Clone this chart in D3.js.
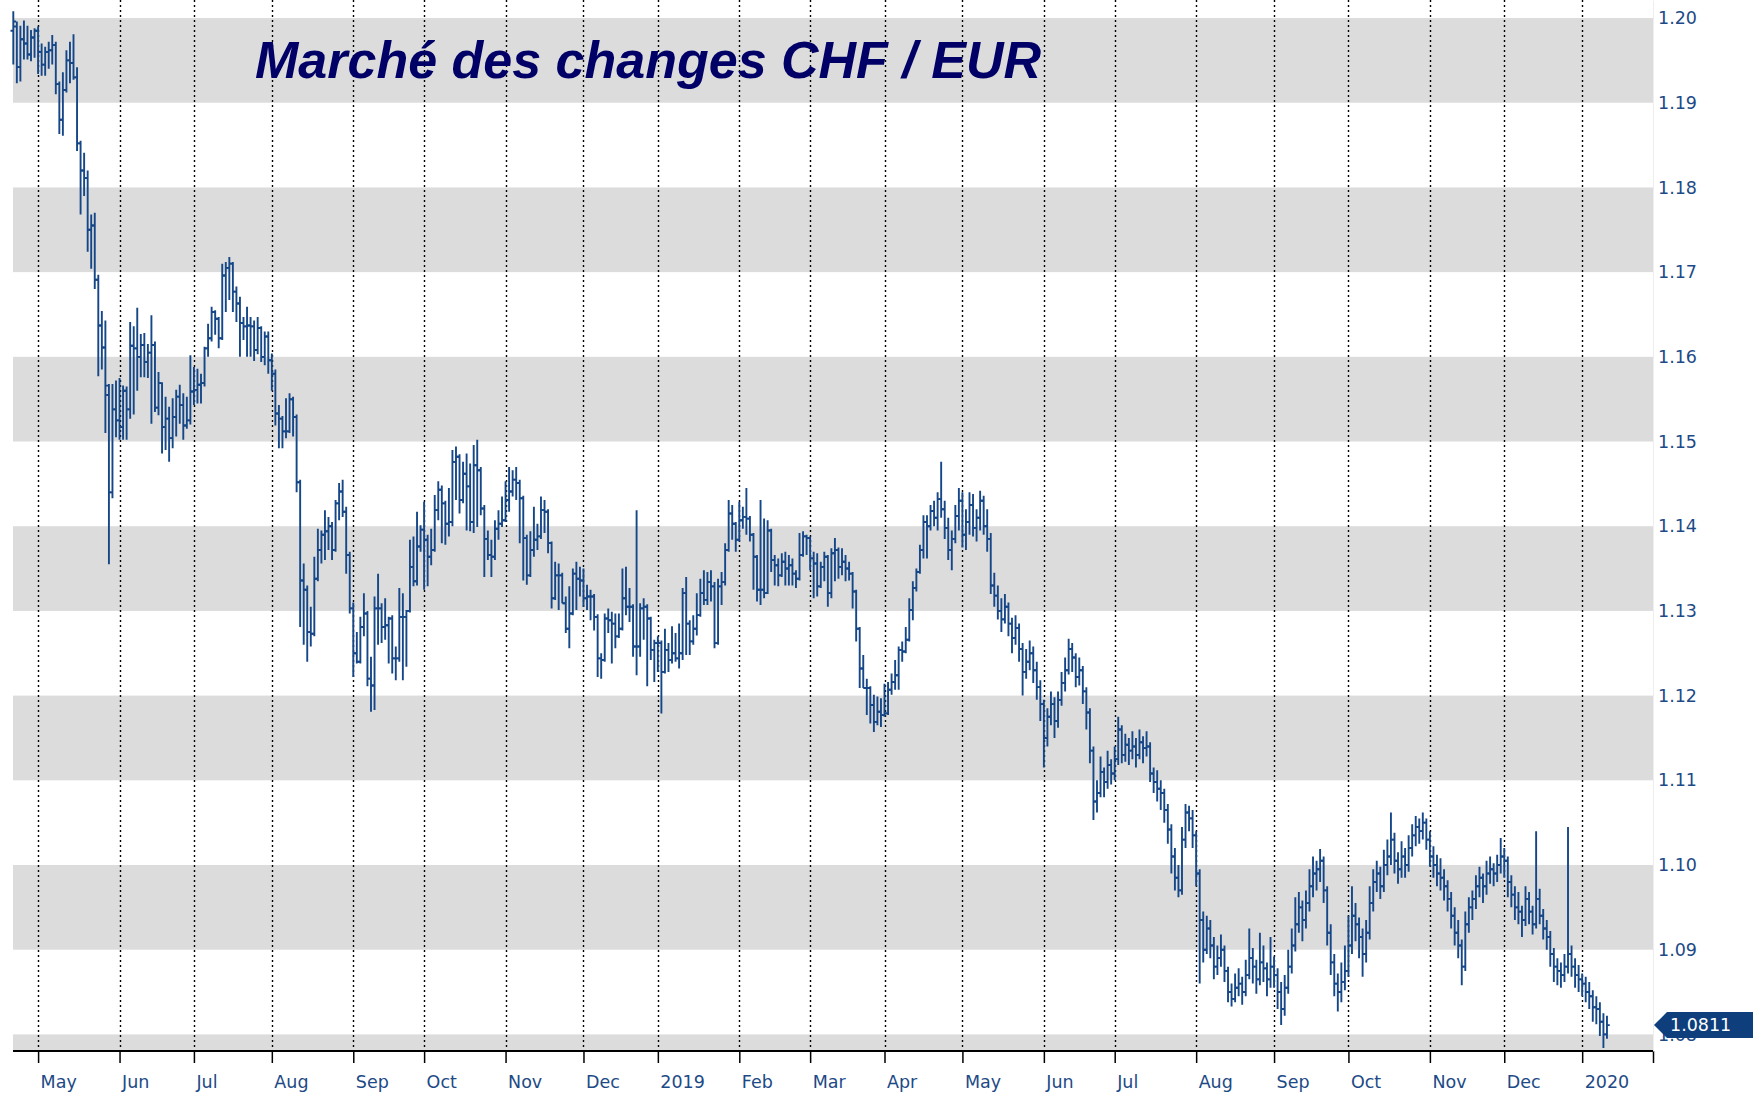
<!DOCTYPE html>
<html>
<head>
<meta charset="utf-8">
<script src="https://cdnjs.cloudflare.com/ajax/libs/d3/7.8.5/d3.min.js"></script>
<style>
  body { margin: 0; background: #fff; }
  svg { display: block; }
</style>
</head>
<body>
<svg width="1757" height="1093"></svg>
<script>
// EUR/CHF daily bars, 20 Apr 2018 - 10 Jan 2020 (one value per trading day)
const open = [
  1.1985,1.1990,1.1942,1.1975,1.1970,1.1957,1.1977,1.1985,1.1960,1.1945,
  1.1960,1.1962,1.1968,1.1922,1.1880,1.1915,1.1950,1.1947,1.1930,1.1852,
  1.1820,1.1811,1.1750,1.1755,1.1691,1.1637,1.1611,1.1555,1.1440,1.1538,
  1.1525,1.1517,1.1560,1.1538,1.1613,1.1610,1.1600,1.1614,1.1594,1.1605,
  1.1614,1.1540,1.1569,1.1517,1.1527,1.1504,1.1529,1.1553,1.1543,1.1519,
  1.1525,1.1559,1.1561,1.1567,1.1569,1.1610,1.1622,1.1653,1.1645,1.1622,
  1.1696,1.1705,1.1710,1.1677,1.1663,1.1640,1.1636,1.1637,1.1636,1.1608,
  1.1634,1.1600,1.1624,1.1596,1.1580,1.1533,1.1527,1.1512,1.1512,1.1550,
  1.1529,1.1452,1.1336,1.1325,1.1275,1.1273,1.1338,1.1372,1.1390,1.1394,
  1.1400,1.1372,1.1427,1.1441,1.1417,1.1366,1.1303,1.1250,1.1240,1.1281,
  1.1297,1.1220,1.1212,1.1303,1.1303,1.1281,1.1283,1.1291,1.1244,1.1244,
  1.1293,1.1293,1.1300,1.1352,1.1335,1.1376,1.1396,1.1384,1.1364,1.1372,
  1.1419,1.1443,1.1427,1.1403,1.1405,1.1476,1.1482,1.1431,1.1462,1.1447,
  1.1405,1.1472,1.1466,1.1421,1.1385,1.1366,1.1364,1.1397,1.1403,1.1407,
  1.1431,1.1441,1.1455,1.1451,1.1433,1.1386,1.1342,1.1372,1.1384,1.1388,
  1.1419,1.1417,1.1380,1.1315,1.1342,1.1342,1.1309,1.1279,1.1297,1.1344,
  1.1338,1.1336,1.1315,1.1317,1.1317,1.1293,1.1244,1.1242,1.1291,1.1289,
  1.1285,1.1270,1.1279,1.1315,1.1305,1.1305,1.1258,1.1258,1.1303,1.1305,
  1.1291,1.1254,1.1262,1.1262,1.1228,1.1254,1.1242,1.1250,1.1244,1.1250,
  1.1321,1.1285,1.1264,1.1279,1.1295,1.1321,1.1313,1.1334,1.1329,1.1262,
  1.1329,1.1334,1.1372,1.1415,1.1403,1.1384,1.1407,1.1411,1.1409,1.1390,
  1.1364,1.1325,1.1325,1.1321,1.1395,1.1360,1.1354,1.1342,1.1358,1.1350,
  1.1354,1.1344,1.1338,1.1366,1.1388,1.1386,1.1362,1.1356,1.1329,1.1352,
  1.1364,1.1321,1.1368,1.1372,1.1352,1.1358,1.1350,1.1344,1.1323,1.1279,
  1.1232,1.1209,1.1209,1.1189,1.1169,1.1181,1.1177,1.1179,1.1207,1.1216,
  1.1224,1.1254,1.1252,1.1266,1.1301,1.1327,1.1346,1.1372,1.1405,1.1400,
  1.1418,1.1410,1.1432,1.1420,1.1398,1.1372,1.1385,1.1412,1.1430,1.1390,
  1.1405,1.1425,1.1398,1.1410,1.1430,1.1400,1.1385,1.1330,1.1318,1.1300,
  1.1290,1.1305,1.1285,1.1268,1.1280,1.1255,1.1228,1.1240,1.1250,1.1230,
  1.1210,1.1190,1.1150,1.1175,1.1190,1.1170,1.1195,1.1215,1.1230,1.1255,
  1.1245,1.1222,1.1230,1.1205,1.1180,1.1135,1.1075,1.1085,1.1110,1.1098,
  1.1118,1.1108,1.1125,1.1160,1.1130,1.1142,1.1135,1.1140,1.1130,1.1145,
  1.1138,1.1140,1.1108,1.1098,1.1090,1.1085,1.1065,1.1042,1.1010,1.0985,
  1.0970,1.1030,1.1062,1.1055,1.1035,1.0990,1.0935,1.0900,1.0925,1.0905,
  1.0880,1.0890,1.0900,1.0875,1.0850,1.0842,1.0855,1.0860,1.0850,1.0870,
  1.0890,1.0880,1.0865,1.0885,1.0878,1.0865,1.0880,1.0870,1.0850,1.0830,
  1.0855,1.0880,1.0905,1.0930,1.0950,1.0935,1.0955,1.0975,1.0990,1.0995,
  1.1005,1.0970,1.0920,1.0885,1.0860,1.0850,1.0862,1.0875,1.0905,1.0940,
  1.0930,1.0915,1.0895,1.0920,1.0955,1.0980,1.0990,1.0975,1.1000,1.1010,
  1.1030,1.1005,1.0995,1.1010,1.1000,1.1020,1.1035,1.1045,1.1040,1.1050,
  1.1030,1.1010,1.1000,1.0990,1.0985,1.0975,1.0960,1.0940,1.0920,1.0905,
  1.0880,1.0930,1.0950,1.0960,1.0975,1.0985,1.0975,1.0990,1.0995,1.0990,
  1.1000,1.1010,1.1005,1.0980,1.0965,1.0950,1.0945,1.0935,1.0960,1.0945,
  1.0930,1.0960,1.0940,1.0925,1.0915,1.0895,1.0880,1.0875,1.0870,1.0880,
  1.0895,1.0880,1.0870,1.0865,1.0860,1.0850,1.0845,1.0832,1.0830,1.0815,1.0800
];
const high = [
  1.2008,1.1996,1.1991,1.1997,1.1991,1.1986,1.1988,1.1990,1.1970,1.1966,
  1.1972,1.1980,1.1972,1.1925,1.1936,1.1962,1.1972,1.1981,1.1942,1.1855,
  1.1841,1.1820,1.1768,1.1770,1.1697,1.1654,1.1643,1.1568,1.1568,1.1572,
  1.1575,1.1566,1.1565,1.1641,1.1636,1.1658,1.1627,1.1628,1.1615,1.1649,
  1.1618,1.1582,1.1570,1.1553,1.1541,1.1551,1.1561,1.1567,1.1557,1.1553,
  1.1602,1.1588,1.1586,1.1580,1.1612,1.1639,1.1659,1.1655,1.1647,1.1710,
  1.1712,1.1718,1.1712,1.1683,1.1671,1.1647,1.1659,1.1647,1.1643,1.1647,
  1.1636,1.1630,1.1630,1.1604,1.1585,1.1543,1.1530,1.1551,1.1557,1.1553,
  1.1532,1.1455,1.1356,1.1330,1.1305,1.1364,1.1397,1.1395,1.1419,1.1411,
  1.1405,1.1431,1.1451,1.1455,1.1423,1.1370,1.1310,1.1275,1.1293,1.1321,
  1.1300,1.1246,1.1317,1.1344,1.1309,1.1315,1.1293,1.1295,1.1258,1.1327,
  1.1321,1.1301,1.1384,1.1388,1.1417,1.1401,1.1429,1.1390,1.1397,1.1437,
  1.1453,1.1448,1.1430,1.1445,1.1490,1.1494,1.1485,1.1476,1.1486,1.1474,
  1.1496,1.1502,1.1470,1.1425,1.1395,1.1384,1.1407,1.1419,1.1435,1.1453,
  1.1470,1.1466,1.1470,1.1455,1.1436,1.1390,1.1394,1.1423,1.1403,1.1435,
  1.1431,1.1420,1.1382,1.1358,1.1356,1.1345,1.1317,1.1329,1.1350,1.1358,
  1.1352,1.1350,1.1331,1.1325,1.1320,1.1296,1.1250,1.1297,1.1303,1.1299,
  1.1297,1.1297,1.1350,1.1352,1.1327,1.1308,1.1419,1.1309,1.1315,1.1308,
  1.1293,1.1266,1.1270,1.1265,1.1279,1.1262,1.1282,1.1274,1.1285,1.1327,
  1.1340,1.1289,1.1295,1.1321,1.1338,1.1348,1.1346,1.1348,1.1334,1.1338,
  1.1346,1.1380,1.1431,1.1425,1.1405,1.1429,1.1423,1.1445,1.1412,1.1392,
  1.1366,1.1431,1.1409,1.1407,1.1397,1.1366,1.1362,1.1368,1.1370,1.1366,
  1.1362,1.1348,1.1392,1.1394,1.1390,1.1388,1.1370,1.1368,1.1358,1.1370,
  1.1366,1.1374,1.1386,1.1375,1.1374,1.1366,1.1358,1.1346,1.1325,1.1281,
  1.1248,1.1220,1.1211,1.1201,1.1199,1.1197,1.1214,1.1216,1.1226,1.1242,
  1.1258,1.1264,1.1281,1.1315,1.1335,1.1350,1.1378,1.1413,1.1413,1.1425,
  1.1430,1.1440,1.1476,1.1430,1.1410,1.1395,1.1425,1.1445,1.1440,1.1420,
  1.1440,1.1438,1.1420,1.1442,1.1436,1.1420,1.1392,1.1345,1.1330,1.1315,
  1.1320,1.1310,1.1292,1.1295,1.1285,1.1262,1.1255,1.1265,1.1258,1.1240,
  1.1218,1.1195,1.1185,1.1205,1.1198,1.1205,1.1228,1.1245,1.1267,1.1262,
  1.1250,1.1245,1.1235,1.1210,1.1185,1.1140,1.1100,1.1128,1.1115,1.1135,
  1.1125,1.1140,1.1175,1.1165,1.1155,1.1150,1.1158,1.1150,1.1160,1.1152,
  1.1158,1.1145,1.1115,1.1112,1.1100,1.1090,1.1072,1.1048,1.1020,1.1000,
  1.1045,1.1072,1.1070,1.1065,1.1040,1.0995,1.0945,1.0940,1.0935,1.0915,
  1.0905,1.0918,1.0905,1.0880,1.0860,1.0872,1.0878,1.0868,1.0888,1.0925,
  1.0902,1.0888,1.0920,1.0905,1.0885,1.0915,1.0892,1.0878,1.0862,1.0870,
  1.0900,1.0925,1.0962,1.0968,1.0958,1.0970,1.0995,1.1010,1.1005,1.1019,
  1.1010,1.0975,1.0930,1.0895,1.0872,1.0885,1.0905,1.0940,1.0975,1.0955,
  1.0938,1.0925,1.0935,1.0975,1.0995,1.1005,1.0998,1.1018,1.1030,1.1062,
  1.1038,1.1015,1.1028,1.1020,1.1035,1.1048,1.1058,1.1055,1.1062,1.1055,
  1.1040,1.1022,1.1012,1.1008,1.0995,1.0982,1.0968,1.0950,1.0935,1.0912,
  1.0945,1.0962,1.0970,1.0988,1.0998,1.0990,1.1005,1.1010,1.1002,1.1012,
  1.1032,1.1020,1.1010,1.0988,1.0975,1.0968,1.0952,1.0975,1.0968,1.0952,
  1.1040,1.0972,1.0948,1.0935,1.0922,1.0902,1.0890,1.0885,1.0895,1.1045,
  1.0905,1.0890,1.0882,1.0872,1.0868,1.0862,1.0852,1.0845,1.0838,1.0825,1.0822
];
const low = [
  1.1945,1.1923,1.1925,1.1951,1.1951,1.1949,1.1953,1.1934,1.1932,1.1932,
  1.1940,1.1945,1.1910,1.1863,1.1861,1.1912,1.1923,1.1927,1.1843,1.1768,
  1.1790,1.1724,1.1704,1.1680,1.1577,1.1585,1.1510,1.1355,1.1433,1.1505,
  1.1502,1.1502,1.1502,1.1527,1.1532,1.1560,1.1576,1.1576,1.1575,1.1521,
  1.1535,1.1531,1.1486,1.1490,1.1476,1.1492,1.1506,1.1521,1.1502,1.1515,
  1.1520,1.1543,1.1545,1.1545,1.1565,1.1600,1.1618,1.1626,1.1610,1.1620,
  1.1653,1.1667,1.1653,1.1641,1.1600,1.1620,1.1600,1.1600,1.1595,1.1603,
  1.1594,1.1590,1.1580,1.1560,1.1519,1.1492,1.1492,1.1504,1.1510,1.1506,
  1.1440,1.1281,1.1260,1.1240,1.1258,1.1270,1.1335,1.1356,1.1360,1.1372,
  1.1360,1.1370,1.1407,1.1411,1.1344,1.1297,1.1222,1.1238,1.1238,1.1270,
  1.1211,1.1181,1.1183,1.1260,1.1262,1.1266,1.1238,1.1226,1.1218,1.1240,
  1.1218,1.1234,1.1298,1.1329,1.1330,1.1370,1.1325,1.1329,1.1354,1.1370,
  1.1407,1.1380,1.1378,1.1388,1.1400,1.1431,1.1415,1.1427,1.1395,1.1394,
  1.1392,1.1399,1.1413,1.1340,1.1360,1.1340,1.1360,1.1384,1.1399,1.1405,
  1.1417,1.1435,1.1431,1.1380,1.1336,1.1331,1.1340,1.1364,1.1372,1.1385,
  1.1392,1.1368,1.1303,1.1313,1.1301,1.1309,1.1274,1.1256,1.1295,1.1301,
  1.1317,1.1305,1.1301,1.1289,1.1277,1.1222,1.1220,1.1240,1.1274,1.1238,
  1.1256,1.1268,1.1277,1.1295,1.1287,1.1246,1.1224,1.1246,1.1266,1.1211,
  1.1242,1.1216,1.1228,1.1179,1.1226,1.1228,1.1238,1.1240,1.1232,1.1242,
  1.1248,1.1248,1.1260,1.1271,1.1293,1.1307,1.1307,1.1311,1.1256,1.1260,
  1.1307,1.1330,1.1370,1.1384,1.1370,1.1382,1.1397,1.1390,1.1382,1.1325,
  1.1311,1.1307,1.1315,1.1320,1.1346,1.1330,1.1329,1.1340,1.1330,1.1330,
  1.1330,1.1327,1.1336,1.1364,1.1366,1.1348,1.1315,1.1317,1.1327,1.1335,
  1.1305,1.1315,1.1335,1.1338,1.1342,1.1335,1.1336,1.1303,1.1264,1.1209,
  1.1209,1.1177,1.1167,1.1157,1.1165,1.1163,1.1175,1.1177,1.1201,1.1207,
  1.1207,1.1240,1.1250,1.1264,1.1289,1.1323,1.1344,1.1362,1.1362,1.1395,
  1.1400,1.1395,1.1410,1.1385,1.1360,1.1348,1.1380,1.1395,1.1375,1.1372,
  1.1390,1.1388,1.1382,1.1395,1.1390,1.1370,1.1320,1.1305,1.1290,1.1275,
  1.1285,1.1270,1.1250,1.1260,1.1240,1.1200,1.1220,1.1230,1.1215,1.1195,
  1.1170,1.1115,1.1140,1.1165,1.1150,1.1162,1.1188,1.1205,1.1225,1.1228,
  1.1210,1.1212,1.1190,1.1160,1.1120,1.1053,1.1062,1.1080,1.1080,1.1090,
  1.1095,1.1100,1.1118,1.1120,1.1122,1.1118,1.1125,1.1115,1.1125,1.1120,
  1.1128,1.1098,1.1085,1.1075,1.1065,1.1050,1.1025,1.0990,1.0970,1.0962,
  1.0965,1.1020,1.1040,1.1020,1.0975,1.0860,1.0885,1.0895,1.0890,1.0865,
  1.0870,1.0880,1.0862,1.0838,1.0833,1.0838,1.0845,1.0835,1.0845,1.0865,
  1.0860,1.0848,1.0858,1.0862,1.0845,1.0855,1.0855,1.0830,1.0811,1.0822,
  1.0848,1.0872,1.0898,1.0920,1.0910,1.0925,1.0945,1.0962,1.0970,1.0980,
  1.0955,1.0905,1.0870,1.0845,1.0827,1.0838,1.0852,1.0868,1.0895,1.0910,
  1.0890,1.0868,1.0885,1.0912,1.0945,1.0968,1.0960,1.0968,1.0988,1.1000,
  1.0990,1.0978,1.0985,1.0985,1.0992,1.1010,1.1022,1.1025,1.1030,1.1018,
  1.0998,1.0985,1.0975,1.0970,1.0958,1.0945,1.0925,1.0905,1.0890,1.0858,
  1.0875,1.0920,1.0935,1.0948,1.0962,1.0955,1.0965,1.0978,1.0975,1.0980,
  1.0990,1.0985,1.0962,1.0950,1.0935,1.0930,1.0915,1.0928,1.0930,1.0918,
  1.0925,1.0930,1.0912,1.0900,1.0880,1.0862,1.0858,1.0855,1.0862,1.0872,
  1.0868,1.0855,1.0850,1.0845,1.0838,1.0830,1.0815,1.0812,1.0798,1.0784,1.0795
];
const close = [
  1.1996,1.1942,1.1975,1.1970,1.1957,1.1977,1.1985,1.1960,1.1945,1.1960,
  1.1962,1.1968,1.1922,1.1880,1.1915,1.1950,1.1947,1.1930,1.1852,1.1820,
  1.1811,1.1750,1.1755,1.1691,1.1637,1.1611,1.1566,1.1440,1.1538,1.1525,
  1.1517,1.1560,1.1538,1.1613,1.1610,1.1600,1.1614,1.1594,1.1605,1.1614,
  1.1540,1.1569,1.1517,1.1527,1.1504,1.1529,1.1553,1.1543,1.1519,1.1525,
  1.1559,1.1561,1.1567,1.1569,1.1610,1.1622,1.1653,1.1645,1.1622,1.1696,
  1.1705,1.1710,1.1677,1.1663,1.1640,1.1636,1.1637,1.1636,1.1608,1.1634,
  1.1600,1.1624,1.1596,1.1580,1.1533,1.1527,1.1512,1.1512,1.1550,1.1529,
  1.1452,1.1336,1.1325,1.1275,1.1273,1.1338,1.1372,1.1390,1.1394,1.1400,
  1.1372,1.1427,1.1441,1.1417,1.1366,1.1303,1.1250,1.1240,1.1281,1.1297,
  1.1220,1.1212,1.1303,1.1303,1.1281,1.1283,1.1291,1.1244,1.1244,1.1293,
  1.1293,1.1300,1.1352,1.1335,1.1376,1.1396,1.1384,1.1364,1.1372,1.1419,
  1.1443,1.1427,1.1403,1.1405,1.1476,1.1482,1.1431,1.1462,1.1447,1.1405,
  1.1472,1.1466,1.1421,1.1385,1.1366,1.1364,1.1397,1.1403,1.1407,1.1431,
  1.1441,1.1455,1.1451,1.1433,1.1386,1.1342,1.1372,1.1384,1.1388,1.1419,
  1.1417,1.1380,1.1315,1.1342,1.1342,1.1309,1.1279,1.1297,1.1344,1.1338,
  1.1336,1.1315,1.1317,1.1317,1.1293,1.1244,1.1242,1.1291,1.1289,1.1285,
  1.1270,1.1279,1.1315,1.1305,1.1305,1.1258,1.1258,1.1303,1.1305,1.1291,
  1.1254,1.1262,1.1262,1.1228,1.1254,1.1242,1.1250,1.1244,1.1250,1.1321,
  1.1285,1.1264,1.1279,1.1295,1.1321,1.1313,1.1334,1.1329,1.1262,1.1329,
  1.1334,1.1372,1.1415,1.1403,1.1384,1.1407,1.1411,1.1409,1.1390,1.1364,
  1.1325,1.1325,1.1321,1.1395,1.1360,1.1354,1.1342,1.1358,1.1350,1.1354,
  1.1344,1.1338,1.1366,1.1388,1.1386,1.1362,1.1356,1.1329,1.1352,1.1364,
  1.1321,1.1368,1.1372,1.1352,1.1358,1.1350,1.1344,1.1323,1.1279,1.1232,
  1.1209,1.1209,1.1189,1.1169,1.1181,1.1177,1.1179,1.1207,1.1216,1.1224,
  1.1254,1.1252,1.1266,1.1301,1.1327,1.1346,1.1372,1.1405,1.1400,1.1418,
  1.1410,1.1432,1.1420,1.1398,1.1372,1.1385,1.1412,1.1430,1.1390,1.1405,
  1.1425,1.1398,1.1410,1.1430,1.1400,1.1385,1.1330,1.1318,1.1300,1.1290,
  1.1305,1.1285,1.1268,1.1280,1.1255,1.1228,1.1240,1.1250,1.1230,1.1210,
  1.1190,1.1150,1.1175,1.1190,1.1170,1.1195,1.1215,1.1230,1.1255,1.1245,
  1.1222,1.1230,1.1205,1.1180,1.1135,1.1075,1.1085,1.1110,1.1098,1.1118,
  1.1108,1.1125,1.1160,1.1130,1.1142,1.1135,1.1140,1.1130,1.1145,1.1138,
  1.1140,1.1108,1.1098,1.1090,1.1085,1.1065,1.1042,1.1010,1.0985,1.0970,
  1.1030,1.1062,1.1055,1.1035,1.0990,1.0935,1.0900,1.0925,1.0905,1.0880,
  1.0890,1.0900,1.0875,1.0850,1.0842,1.0855,1.0860,1.0850,1.0870,1.0890,
  1.0880,1.0865,1.0885,1.0878,1.0865,1.0880,1.0870,1.0850,1.0830,1.0855,
  1.0880,1.0905,1.0930,1.0950,1.0935,1.0955,1.0975,1.0990,1.0995,1.1005,
  1.0970,1.0920,1.0885,1.0860,1.0850,1.0862,1.0875,1.0905,1.0940,1.0930,
  1.0915,1.0895,1.0920,1.0955,1.0980,1.0990,1.0975,1.1000,1.1010,1.1030,
  1.1005,1.0995,1.1010,1.1000,1.1020,1.1035,1.1045,1.1040,1.1050,1.1030,
  1.1010,1.1000,1.0990,1.0985,1.0975,1.0960,1.0940,1.0920,1.0905,1.0880,
  1.0930,1.0950,1.0960,1.0975,1.0985,1.0975,1.0990,1.0995,1.0990,1.1000,
  1.1010,1.1005,1.0980,1.0965,1.0950,1.0945,1.0935,1.0960,1.0945,1.0930,
  1.0960,1.0940,1.0925,1.0915,1.0895,1.0880,1.0875,1.0870,1.0880,1.0895,
  1.0880,1.0870,1.0865,1.0860,1.0850,1.0845,1.0832,1.0830,1.0815,1.0800,1.0811
];

const monthLabels = ["May", "Jun", "Jul", "Aug", "Sep", "Oct", "Nov", "Dec", "2019",
  "Feb", "Mar", "Apr", "May", "Jun", "Jul", "Aug", "Sep", "Oct", "Nov", "Dec", "2020"];
const yTicks = [1.08, 1.09, 1.10, 1.11, 1.12, 1.13, 1.14, 1.15, 1.16, 1.17, 1.18, 1.19, 1.20];
const bandStarts = [1.07, 1.09, 1.11, 1.13, 1.15, 1.17, 1.19];
const title = "Marché des changes CHF / EUR";

const blue = "#154788";
const labelBlue = "#1d4a86";

const svg = d3.select("svg");
const plotLeft = 13, plotRight = 1653, plotBottom = 1051;

// trading days = weekdays only, the x axis runs on the day index
const days = d3.timeDay.range(new Date(2018, 3, 20), new Date(2020, 0, 11))
  .filter(d => d.getDay() % 6 !== 0);
const monthStarts = days.map((d, i) => i)
  .filter(i => i > 0 && days[i].getMonth() !== days[i - 1].getMonth());

const x = d3.scaleLinear().domain([0, 463]).range([13.3, plotRight]);
const y = d3.scaleLinear().domain([1.07804, 1.20213]).range([plotBottom, 0]);

// grey bands
svg.append("g")
  .selectAll("rect")
  .data(bandStarts)
  .join("rect")
  .attr("x", plotLeft)
  .attr("width", plotRight - plotLeft)
  .attr("y", d => Math.max(0, y(d + 0.01)))
  .attr("height", d => Math.min(plotBottom, y(d)) - Math.max(0, y(d + 0.01)))
  .attr("fill", "#dcdcdc");

// dotted month lines
svg.append("g")
  .selectAll("line")
  .data(monthStarts)
  .join("line")
  .attr("x1", d => Math.round(x(d)) + 0.5)
  .attr("x2", d => Math.round(x(d)) + 0.5)
  .attr("y1", 0)
  .attr("y2", plotBottom)
  .attr("stroke", "#000")
  .attr("stroke-width", 1.4)
  .attr("stroke-dasharray", "2,3");

svg.append("text")
  .attr("x", 255)
  .attr("y", 78)
  .attr("font-family", "'Liberation Sans', Arial, sans-serif")
  .attr("font-weight", "bold")
  .attr("font-style", "italic")
  .attr("font-size", 52)
  .attr("fill", "#000066")
  .text(title);

// OHLC bars
svg.append("g")
  .attr("stroke", blue)
  .attr("stroke-width", 1.9)
  .attr("fill", "none")
  .selectAll("path")
  .data(d3.range(close.length))
  .join("path")
  .attr("d", i => {
    const cx = x(i);
    return `M${cx},${y(high[i])}V${y(low[i])}` +
      `M${cx - 2.8},${y(open[i])}H${cx}` +
      `M${cx},${y(close[i])}H${cx + 2.8}`;
  });

// bottom axis
svg.append("g")
  .attr("transform", `translate(0,${plotBottom})`)
  .call(d3.axisBottom(x)
    .tickValues([...monthStarts, 463])
    .tickSize(12)
    .tickSizeOuter(0)
    .tickFormat((d, k) => monthLabels[k] || ""))
  .call(g => g.select(".domain")
    .attr("d", `M${plotLeft},0H${plotRight}`)
    .attr("stroke-width", 2))
  .call(g => g.selectAll(".tick line").attr("stroke-width", 1.5))
  .call(g => g.selectAll(".tick text")
    .attr("text-anchor", "start")
    .attr("dx", 2)
    .attr("y", 25)
    .attr("fill", labelBlue)
    .attr("font-family", "'DejaVu Sans', sans-serif")
    .attr("font-size", 17.5));

// right value axis
svg.append("g")
  .attr("transform", `translate(${plotRight},0)`)
  .call(d3.axisRight(y)
    .tickValues(yTicks)
    .tickFormat(d3.format(".2f"))
    .tickSize(0)
    .tickPadding(5))
  .call(g => g.select(".domain").attr("stroke", "#eeeeee"))
  .call(g => g.selectAll(".tick text")
    .attr("fill", labelBlue)
    .attr("font-family", "'DejaVu Sans', sans-serif")
    .attr("font-size", 17.5));

// last price tag
const last = close[close.length - 1];
const py = y(last);
svg.append("path")
  .attr("d", `M${plotRight + 1},${py}L${plotRight + 14},${py - 13}H1753V${py + 13}H${plotRight + 14}Z`)
  .attr("fill", "#0e3e7c");
svg.append("text")
  .attr("x", 1670)
  .attr("y", py)
  .attr("dy", "0.36em")
  .attr("fill", "#fff")
  .attr("font-family", "'DejaVu Sans', sans-serif")
  .attr("font-size", 17.5)
  .text(d3.format(".4f")(last));
</script>
</body>
</html>
